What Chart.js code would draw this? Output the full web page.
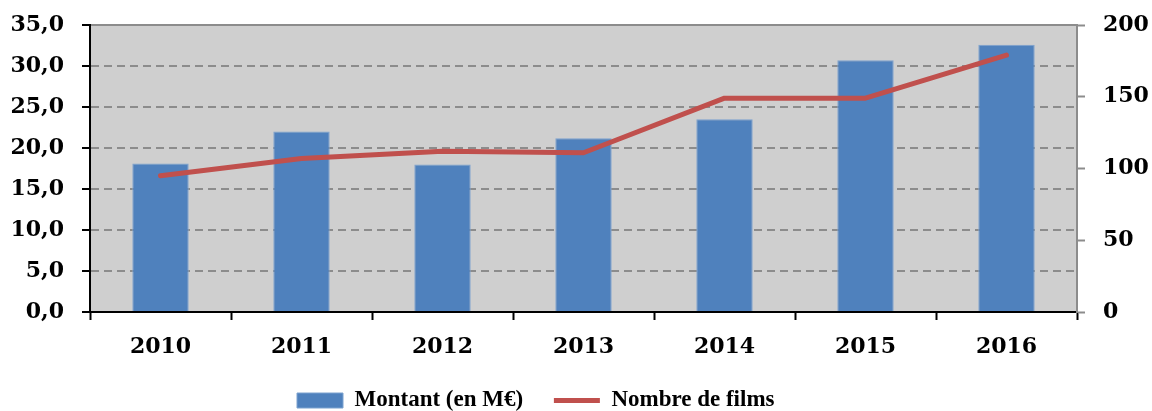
<!DOCTYPE html>
<html>
<head>
<meta charset="utf-8">
<script src="https://cdn.jsdelivr.net/npm/chart.js@4/dist/chart.umd.min.js"></script>
<style>
  html, body { margin: 0; padding: 0; background: #fff; }
  #wrap { width: 1152px; height: 411px; }
</style>
</head>
<body>
<div id="wrap"><canvas id="filmsChart" width="1152" height="411"></canvas></div>
<script>
  // Data
  const years = ['2010', '2011', '2012', '2013', '2014', '2015', '2016'];
  const montant = [18.1, 22.0, 18.0, 21.2, 23.5, 30.7, 32.6];
  const nbFilms = [95, 107, 112, 111, 149, 149, 179];
  const leftTicks = [0, 5, 10, 15, 20, 25, 30, 35];
  const rightTicks = [0, 50, 100, 150, 200];

  const FONT = { family: '"DejaVu Serif", serif', size: 22, weight: 'bold' };
  const LEGEND_FONT = { family: '"Liberation Serif", serif', size: 23, weight: 'bold' };

  // grey plot background + grey top frame line
  const plotFrame = {
    id: 'plotFrame',
    beforeDraw(chart) {
      const { ctx, chartArea: a } = chart;
      ctx.save();
      ctx.fillStyle = '#cfcfcf';
      ctx.fillRect(a.left, a.top, a.right - a.left, a.bottom - a.top);
      ctx.strokeStyle = '#8c8c8c';
      ctx.lineWidth = 2;
      ctx.beginPath();
      ctx.moveTo(a.left, a.top);
      ctx.lineTo(a.right, a.top);
      ctx.stroke();
      ctx.restore();
    }
  };

  Chart.defaults.font = FONT;
  Chart.defaults.color = '#000';

  // trailing spaces give the legend its spacing
  const legendPad = ['     ', '              '];

  // fixed axis width, and no extra top/bottom room reserved for tick labels
  const fixWidth = w => s => { s.width = w; s.paddingTop = 0; s.paddingBottom = 0; };

  new Chart(document.getElementById('filmsChart'), {
    data: {
      labels: years,
      datasets: [
        {
          type: 'line',
          label: 'Nombre de films',
          data: nbFilms,
          yAxisID: 'yR',
          borderColor: '#c0504d',
          backgroundColor: '#c0504d',
          borderWidth: 5,
          borderCapStyle: 'round',
          borderJoinStyle: 'round',
          pointRadius: 0,
          tension: 0,
          order: 0,
          pointStyle: 'line'
        },
        {
          type: 'bar',
          label: 'Montant (en M€)',
          data: montant,
          yAxisID: 'yL',
          backgroundColor: '#4f81bd',
          borderColor: '#7da2cf',
          borderWidth: 1,
          barPercentage: 0.4,
          categoryPercentage: 1,
          order: 1,
          pointStyle: 'rect'
        }
      ]
    },
    options: {
      responsive: false,
      animation: false,
      layout: { padding: { top: 25, left: 0, right: 0, bottom: -11 } },
      scales: {
        x: {
          offset: true,
          grid: { offset: true, drawOnChartArea: false, tickLength: 8, tickColor: '#000', tickWidth: 2 },
          border: { color: '#000', width: 2 },
          ticks: { font: FONT, color: '#000', padding: 14 },
          afterFit(s) { s.height = 75; }
        },
        yL: {
          position: 'left',
          min: 0, max: 35,
          afterBuildTicks(s) { s.ticks = leftTicks.map(v => ({ value: v })); },
          grid: {
            color: ctx => (ctx.index === 0 ? 'rgba(0,0,0,0)' : '#8c8c8c'),
            lineWidth: 2,
            tickColor: '#000', tickLength: 8, tickWidth: 2, tickBorderDash: []
          },
          border: { color: '#000', width: 2, dash: [8, 5] },
          ticks: {
            font: FONT, color: '#000', padding: 18,
            callback: v => v.toFixed(1).replace('.', ',')
          },
          afterFit: fixWidth(90)
        },
        yR: {
          position: 'right',
          min: 0, max: 200,
          afterBuildTicks(s) { s.ticks = rightTicks.map(v => ({ value: v })); },
          grid: { drawOnChartArea: false, tickColor: '#8c8c8c', tickLength: 8, tickWidth: 2 },
          border: { color: '#8c8c8c', width: 2 },
          ticks: { font: FONT, color: '#000', padding: 18 },
          afterFit: fixWidth(75)
        }
      },
      plugins: {
        legend: {
          position: 'bottom',
          reverse: true,
          labels: {
            usePointStyle: true,
            pointStyleWidth: 46,
            boxHeight: 15,
            padding: 2,
            font: LEGEND_FONT,
            color: '#000',
            generateLabels(chart) {
              const items = Chart.defaults.plugins.legend.labels.generateLabels(chart);
              // bar item first, then the line
              items.forEach(it => { it.text += legendPad[it.datasetIndex === 1 ? 0 : 1]; });
              return items;
            }
          }
        },
        tooltip: { enabled: false }
      }
    },
    plugins: [plotFrame]
  });
</script>
</body>
</html>
